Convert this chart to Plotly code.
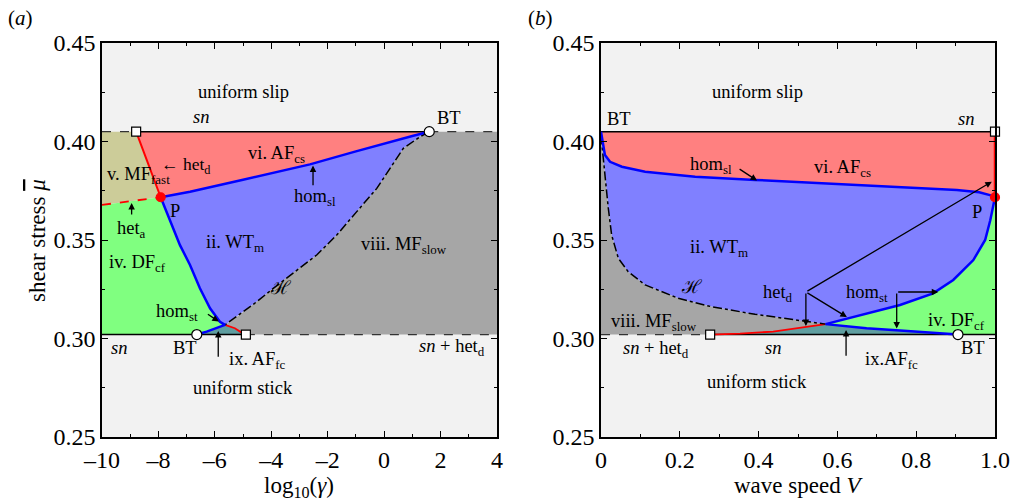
import plotly.graph_objects as go

# ---------------- data ----------------
MU_TOP = 0.405     # upper sn line (uniform slip boundary)
MU_BOT = 0.302     # lower sn line (uniform stick boundary)

# panel (a): x = log10(gamma)
A_XMIN, A_XMAX = -10, 4
a_sq_top_x = -8.79
a_P = (-7.92, 0.3717)
a_BT_top_x = 1.60
a_BT_bot_x = -6.64
a_sq_bot_x = -4.90
a_het_a_y0 = 0.3678          # het_a value at x = -10

a_hom_sl_x = [-7.92, -6.88, -5.0, -2.63, -1.0, 0.21, 1.0, 1.60]
a_hom_sl_y = [0.3717, 0.3745, 0.3806, 0.3884, 0.3950, 0.3999, 0.4028, 0.405]

a_H_x = [1.60, 1.27, 0.68, 0.21, -0.26, -0.97, -1.68, -2.39, -3.34, -3.93, -4.52, -5.22, -5.64]
a_H_y = [0.405, 0.4024, 0.3965, 0.3865, 0.3762, 0.3644, 0.3525, 0.3424, 0.3322, 0.3254, 0.3186, 0.3111, 0.3069]

a_hom_st_up_x = [-7.92, -7.59, -7.24, -6.88, -6.53, -6.17, -5.82, -5.64]
a_hom_st_up_y = [0.3717, 0.3602, 0.3475, 0.3373, 0.3255, 0.3153, 0.3085, 0.3069]
a_hom_st_lo_x = [-5.64, -5.93, -6.29, -6.64]
a_hom_st_lo_y = [0.3069, 0.3052, 0.3035, 0.302]

a_het_d_bot_x = [-5.64, -5.29, -5.05, -4.90]
a_het_d_bot_y = [0.3069, 0.3052, 0.3030, 0.302]

# panel (b): x = wave speed V
B_XMIN, B_XMAX = 0.0, 1.0
b_P = (1.0, 0.3717)
b_sq_bot_x = 0.277
b_BT_bot_x = 0.906

b_hom_sl_x = [0.0, 0.003, 0.006, 0.010, 0.023, 0.053, 0.112, 0.239, 0.391, 0.649, 0.903, 0.960, 0.987, 1.0]
b_hom_sl_y = [0.405, 0.401, 0.3982, 0.3931, 0.3897, 0.3872, 0.3847, 0.3821, 0.3805, 0.3779, 0.3754, 0.3742, 0.3728, 0.3717]

b_H_x = [0.0, 0.003, 0.010, 0.0185, 0.027, 0.044, 0.069, 0.112, 0.196, 0.281, 0.391, 0.480, 0.57]
b_H_y = [0.403, 0.3965, 0.383, 0.3661, 0.3525, 0.3407, 0.3339, 0.3272, 0.3204, 0.3161, 0.3123, 0.3097, 0.3073]

b_hom_st_up_x = [0.57, 0.674, 0.759, 0.843, 0.894, 0.945, 0.975, 0.988, 0.995, 1.0]
b_hom_st_up_y = [0.3073, 0.3128, 0.317, 0.3229, 0.3297, 0.3398, 0.35, 0.360, 0.3665, 0.3717]
b_hom_st_lo_x = [0.57, 0.674, 0.759, 0.843, 0.906]
b_hom_st_lo_y = [0.3073, 0.3052, 0.304, 0.303, 0.302]

b_het_d_x = [0.277, 0.353, 0.437, 0.522, 0.57]
b_het_d_y = [0.302, 0.3025, 0.3035, 0.306, 0.3073]

Y_TICKS = [0.25, 0.30, 0.35, 0.40, 0.45]
A_TICKS = [-10, -8, -6, -4, -2, 0, 2, 4]
A_TICKTEXT = ['–10', '–8', '–6', '–4', '–2', '0', '2', '4']
B_TICKS = [0, 0.2, 0.4, 0.6, 0.8, 1.0]
B_TICKTEXT = ['0', '0.2', '0.4', '0.6', '0.8', '1.0']

# ---------------- styles ----------------
C_RED = '#ff8080'
C_BLUE = '#8080ff'
C_GREEN = '#80ff80'
C_GREY = '#a6a6a6'
C_OLIVE = '#cccc99'
C_TEAL = '#5f9ea0'
C_BG = '#f2f2f2'
FONT = 'Liberation Serif'
LBL = 18.5

fig = go.Figure()


def fill(xs, ys, color, ax):
    fig.add_trace(go.Scatter(x=xs, y=ys, fill='toself', fillcolor=color, mode='lines',
                             line=dict(width=0), hoverinfo='skip', showlegend=False,
                             xaxis=ax[0], yaxis=ax[1]))


def line(xs, ys, color, width, ax, dash='solid'):
    fig.add_trace(go.Scatter(x=xs, y=ys, mode='lines', line=dict(color=color, width=width, dash=dash),
                             hoverinfo='skip', showlegend=False, xaxis=ax[0], yaxis=ax[1]))


def marker(xs, ys, symbol, color, ax, size=10, lc='black'):
    fig.add_trace(go.Scatter(x=xs, y=ys, mode='markers', cliponaxis=False,
                             marker=dict(symbol=symbol, color=color, size=size,
                                         line=dict(color=lc, width=1.2)),
                             hoverinfo='skip', showlegend=False, xaxis=ax[0], yaxis=ax[1]))


rev = lambda a: list(a)[::-1]
A = ('x', 'y')
B = ('x2', 'y2')

# ---------- panel (a) regions ----------
fill([A_XMIN, a_sq_top_x, a_P[0], A_XMIN], [MU_TOP, MU_TOP, a_P[1], a_het_a_y0], C_OLIVE, A)
fill([a_sq_top_x, a_BT_top_x] + rev(a_hom_sl_x), [MU_TOP, MU_TOP] + rev(a_hom_sl_y), C_RED, A)
fill(a_hom_sl_x + a_H_x + rev(a_hom_st_up_x), a_hom_sl_y + a_H_y + rev(a_hom_st_up_y), C_BLUE, A)
fill([a_BT_top_x, A_XMAX, A_XMAX, a_sq_bot_x] + rev(a_het_d_bot_x) + rev(a_H_x),
     [MU_TOP, MU_TOP, MU_BOT, MU_BOT] + rev(a_het_d_bot_y) + rev(a_H_y), C_GREY, A)
fill([A_XMIN] + a_hom_st_up_x + a_hom_st_lo_x + [A_XMIN],
     [a_het_a_y0] + a_hom_st_up_y + a_hom_st_lo_y + [MU_BOT], C_GREEN, A)
fill(rev(a_hom_st_lo_x) + a_het_d_bot_x, rev(a_hom_st_lo_y) + a_het_d_bot_y, C_TEAL, A)

# ---------- panel (b) regions ----------
fill([B_XMIN, B_XMAX] + rev(b_hom_sl_x), [MU_TOP, MU_TOP] + rev(b_hom_sl_y), C_RED, B)
fill(b_hom_sl_x + rev(b_hom_st_up_x) + rev(b_H_x), b_hom_sl_y + rev(b_hom_st_up_y) + rev(b_H_y), C_BLUE, B)
fill(b_H_x + rev(b_het_d_x) + [B_XMIN], b_H_y + rev(b_het_d_y) + [MU_BOT], C_GREY, B)
fill(b_het_d_x + b_hom_st_lo_x, b_het_d_y + b_hom_st_lo_y, C_TEAL, B)
fill(b_hom_st_up_x + [B_XMAX] + rev(b_hom_st_lo_x), b_hom_st_up_y + [MU_BOT] + rev(b_hom_st_lo_y), C_GREEN, B)

# ---------- panel (a) lines ----------
line([A_XMIN, a_sq_top_x], [MU_TOP, MU_TOP], '#333333', 1.2, A, 'dash')
line([a_sq_top_x, a_BT_top_x], [MU_TOP, MU_TOP], 'black', 1.5, A)
line([a_BT_top_x, A_XMAX], [MU_TOP, MU_TOP], '#333333', 1.2, A, 'dash')
line([A_XMIN, a_sq_bot_x], [MU_BOT, MU_BOT], 'black', 1.5, A)
line([a_sq_bot_x, A_XMAX], [MU_BOT, MU_BOT], '#333333', 1.2, A, 'dash')
line([a_sq_top_x, a_P[0]], [MU_TOP, a_P[1]], 'red', 2, A)
line([A_XMIN, a_P[0]], [a_het_a_y0, a_P[1]], 'red', 1.8, A, 'dash')
line(a_het_d_bot_x, a_het_d_bot_y, 'red', 1.8, A)
line(a_H_x, a_H_y, 'black', 1.5, A, 'dashdot')
line(a_hom_sl_x, a_hom_sl_y, 'blue', 2.5, A)
line(a_hom_st_up_x + a_hom_st_lo_x, a_hom_st_up_y + a_hom_st_lo_y, 'blue', 2.5, A)

# ---------- panel (b) lines ----------
line([B_XMIN, B_XMAX], [MU_TOP, MU_TOP], 'black', 1.5, B)
line([B_XMIN, b_sq_bot_x], [MU_BOT, MU_BOT], '#333333', 1.2, B, 'dash')
line([b_sq_bot_x, B_XMAX], [MU_BOT, MU_BOT], 'black', 1.5, B)
line([B_XMAX, B_XMAX], [MU_TOP, b_P[1]], 'red', 2.5, B)
line(b_het_d_x, b_het_d_y, 'red', 1.8, B)
line(b_H_x, b_H_y, 'black', 1.5, B, 'dashdot')
line(b_hom_sl_x, b_hom_sl_y, 'blue', 2.5, B)
line(b_hom_st_up_x, b_hom_st_up_y, 'blue', 2.5, B)
line(b_hom_st_lo_x, b_hom_st_lo_y, 'blue', 2.5, B)

# ---------- markers ----------
marker([a_sq_top_x, a_sq_bot_x], [MU_TOP, MU_BOT], 'square', 'white', A, 9)
marker([a_BT_top_x, a_BT_bot_x], [MU_TOP, MU_BOT], 'circle', 'white', A, 10)
marker([a_P[0]], [a_P[1]], 'circle', 'red', A, 9, 'red')
marker([B_XMAX, b_sq_bot_x], [MU_TOP, MU_BOT], 'square', 'white', B, 9)
marker([b_BT_bot_x], [MU_BOT], 'circle', 'white', B, 10)
marker([b_P[0]], [b_P[1]], 'circle', 'red', B, 9, 'red')

# ---------- annotations ----------
ann = []


def txt(x, y, s, ax, size=LBL, xanchor='center'):
    ann.append(dict(x=x, y=y, xref=ax[0], yref=ax[1], text=s, showarrow=False,
                    font=dict(family=FONT, size=size, color='black'), xanchor=xanchor, yanchor='middle'))


def arrow(xh, yh, xt, yt, ax):
    ann.append(dict(x=xh, y=yh, ax=xt, ay=yt, xref=ax[0], yref=ax[1], axref=ax[0], ayref=ax[1],
                    text='', showarrow=True, arrowhead=2, arrowsize=1, arrowwidth=1.3,
                    arrowcolor='black', standoff=0, startstandoff=0))


# panel (a)
txt(-5.0, 0.4251, 'uniform slip', A)
txt(-6.5, 0.4124, '<i>sn</i>', A)
txt(2.3, 0.4120, 'BT', A)
txt(-9.9, 0.3825, 'v. MF<sub>fast</sub>', A, xanchor='left')
txt(-7.98, 0.3878, '← het<sub>d</sub>', A, size=17.5, xanchor='left')
txt(-3.8, 0.3935, 'vi. AF<sub>cs</sub>', A)
txt(-2.45, 0.3715, 'hom<sub>sl</sub>', A)
arrow(-2.52, 0.3878, -2.52, 0.3770, A)
txt(-7.4, 0.3645, 'P', A)
txt(-8.95, 0.3555, 'het<sub>a</sub>', A)
arrow(-8.95, 0.3688, -8.95, 0.3622, A)
txt(-8.75, 0.3380, 'iv. DF<sub>cf</sub>', A)
txt(-5.3, 0.3480, 'ii. WT<sub>m</sub>', A)
txt(-3.65, 0.3256, 'ℋ', A)
txt(0.7, 0.3470, 'viii. MF<sub>slow</sub>', A)
txt(-7.35, 0.3132, 'hom<sub>st</sub>', A)
arrow(-5.86, 0.3086, -6.30, 0.3128, A)
txt(-9.38, 0.2952, '<i>sn</i>', A)
txt(-7.05, 0.2952, 'BT', A)
txt(-4.5, 0.2890, 'ix. AF<sub>fc</sub>', A)
arrow(-5.88, 0.3038, -5.88, 0.2900, A)
txt(2.4, 0.2952, '<i>sn</i> + het<sub>d</sub>', A)
txt(-5.0, 0.2749, 'uniform stick', A)

# panel (b)
txt(0.396, 0.4251, 'uniform slip', B)
txt(0.046, 0.4115, 'BT', B)
txt(0.926, 0.4115, '<i>sn</i>', B)
txt(0.279, 0.3880, 'hom<sub>sl</sub>', B)
arrow(0.396, 0.3802, 0.348, 0.3865, B)
txt(0.612, 0.3865, 'vi. AF<sub>cs</sub>', B)
txt(0.954, 0.3642, 'P', B)
txt(0.30, 0.3458, 'ii. WT<sub>m</sub>', B)
txt(0.232, 0.3262, 'ℋ', B)
txt(0.449, 0.3228, 'het<sub>d</sub>', B)
arrow(0.992, 0.3796, 0.520, 0.3236, B)
arrow(0.624, 0.3109, 0.520, 0.3236, B)
arrow(0.520, 0.3063, 0.520, 0.3236, B)
txt(0.675, 0.3228, 'hom<sub>st</sub>', B)
arrow(0.856, 0.3236, 0.7505, 0.3236, B)
arrow(0.7505, 0.3051, 0.7505, 0.3236, B)
txt(0.135, 0.3080, 'viii. MF<sub>slow</sub>', B)
txt(0.903, 0.3088, 'iv. DF<sub>cf</sub>', B)
txt(0.14, 0.2945, '<i>sn</i> + het<sub>d</sub>', B)
txt(0.437, 0.2952, '<i>sn</i>', B)
txt(0.944, 0.2952, 'BT', B)
txt(0.738, 0.2890, 'ix.AF<sub>fc</sub>', B)
arrow(0.622, 0.3043, 0.622, 0.2905, B)
txt(0.396, 0.2779, 'uniform stick', B)

# panel labels & axis titles (paper coords)
ann.append(dict(x=-0.0918, y=1.0635, xref='paper', yref='paper', text='(<i>a</i>)', showarrow=False,
                font=dict(family=FONT, size=21, color='black'), xanchor='center', yanchor='middle'))
ann.append(dict(x=0.4905, y=1.0635, xref='paper', yref='paper', text='(<i>b</i>)', showarrow=False,
                font=dict(family=FONT, size=21, color='black'), xanchor='center', yanchor='middle'))
ann.append(dict(x=-0.0728, y=0.5, xref='paper', yref='paper',
                text="shear stress <span style='text-decoration:overline'><i>μ</i></span>", showarrow=False,
                textangle=-90, font=dict(family=FONT, size=23, color='black'), xanchor='center', yanchor='middle'))
ann.append(dict(x=0.2211, y=-0.128, xref='paper', yref='paper', text='log<sub>10</sub>(<i>γ</i>)',
                showarrow=False, font=dict(family=FONT, size=23, color='black'), xanchor='center', yanchor='middle'))
ann.append(dict(x=0.7794, y=-0.123, xref='paper', yref='paper', text='wave speed <i>V</i>',
                showarrow=False, font=dict(family=FONT, size=23, color='black'), xanchor='center', yanchor='middle'))

axis_common = dict(showline=True, linecolor='black', linewidth=1.5, mirror='ticks', ticks='inside',
                   ticklen=6, tickwidth=1.2, tickcolor='black', showgrid=False, zeroline=False,
                   automargin=False, tickfont=dict(family=FONT, size=24, color='black'))

fig.update_layout(
    template='none',
    width=1012, height=498,
    margin=dict(l=102, r=17, t=43, b=61, autoexpand=False),
    font=dict(family=FONT, color='black'),
    paper_bgcolor='white', plot_bgcolor=C_BG,
    showlegend=False,
    annotations=ann,
    xaxis=dict(domain=[0, 0.4423], range=[A_XMIN, A_XMAX], tickvals=A_TICKS, ticktext=A_TICKTEXT,
               minor=dict(dtick=1, ticks='inside', ticklen=3, tickcolor='black'), anchor='y', **axis_common),
    yaxis=dict(domain=[0, 1], range=[0.25, 0.45], tickvals=Y_TICKS, tickformat='.2f',
               minor=dict(dtick=0.025, ticks='inside', ticklen=3, tickcolor='black'), anchor='x', **axis_common),
    xaxis2=dict(domain=[0.5588, 1], range=[B_XMIN, B_XMAX], tickvals=B_TICKS, ticktext=B_TICKTEXT,
                minor=dict(dtick=0.1, ticks='inside', ticklen=3, tickcolor='black'), anchor='y2', **axis_common),
    yaxis2=dict(domain=[0, 1], range=[0.25, 0.45], tickvals=Y_TICKS, tickformat='.2f',
                minor=dict(dtick=0.025, ticks='inside', ticklen=3, tickcolor='black'), anchor='x2', **axis_common),
)

fig.write_html('out.html')
